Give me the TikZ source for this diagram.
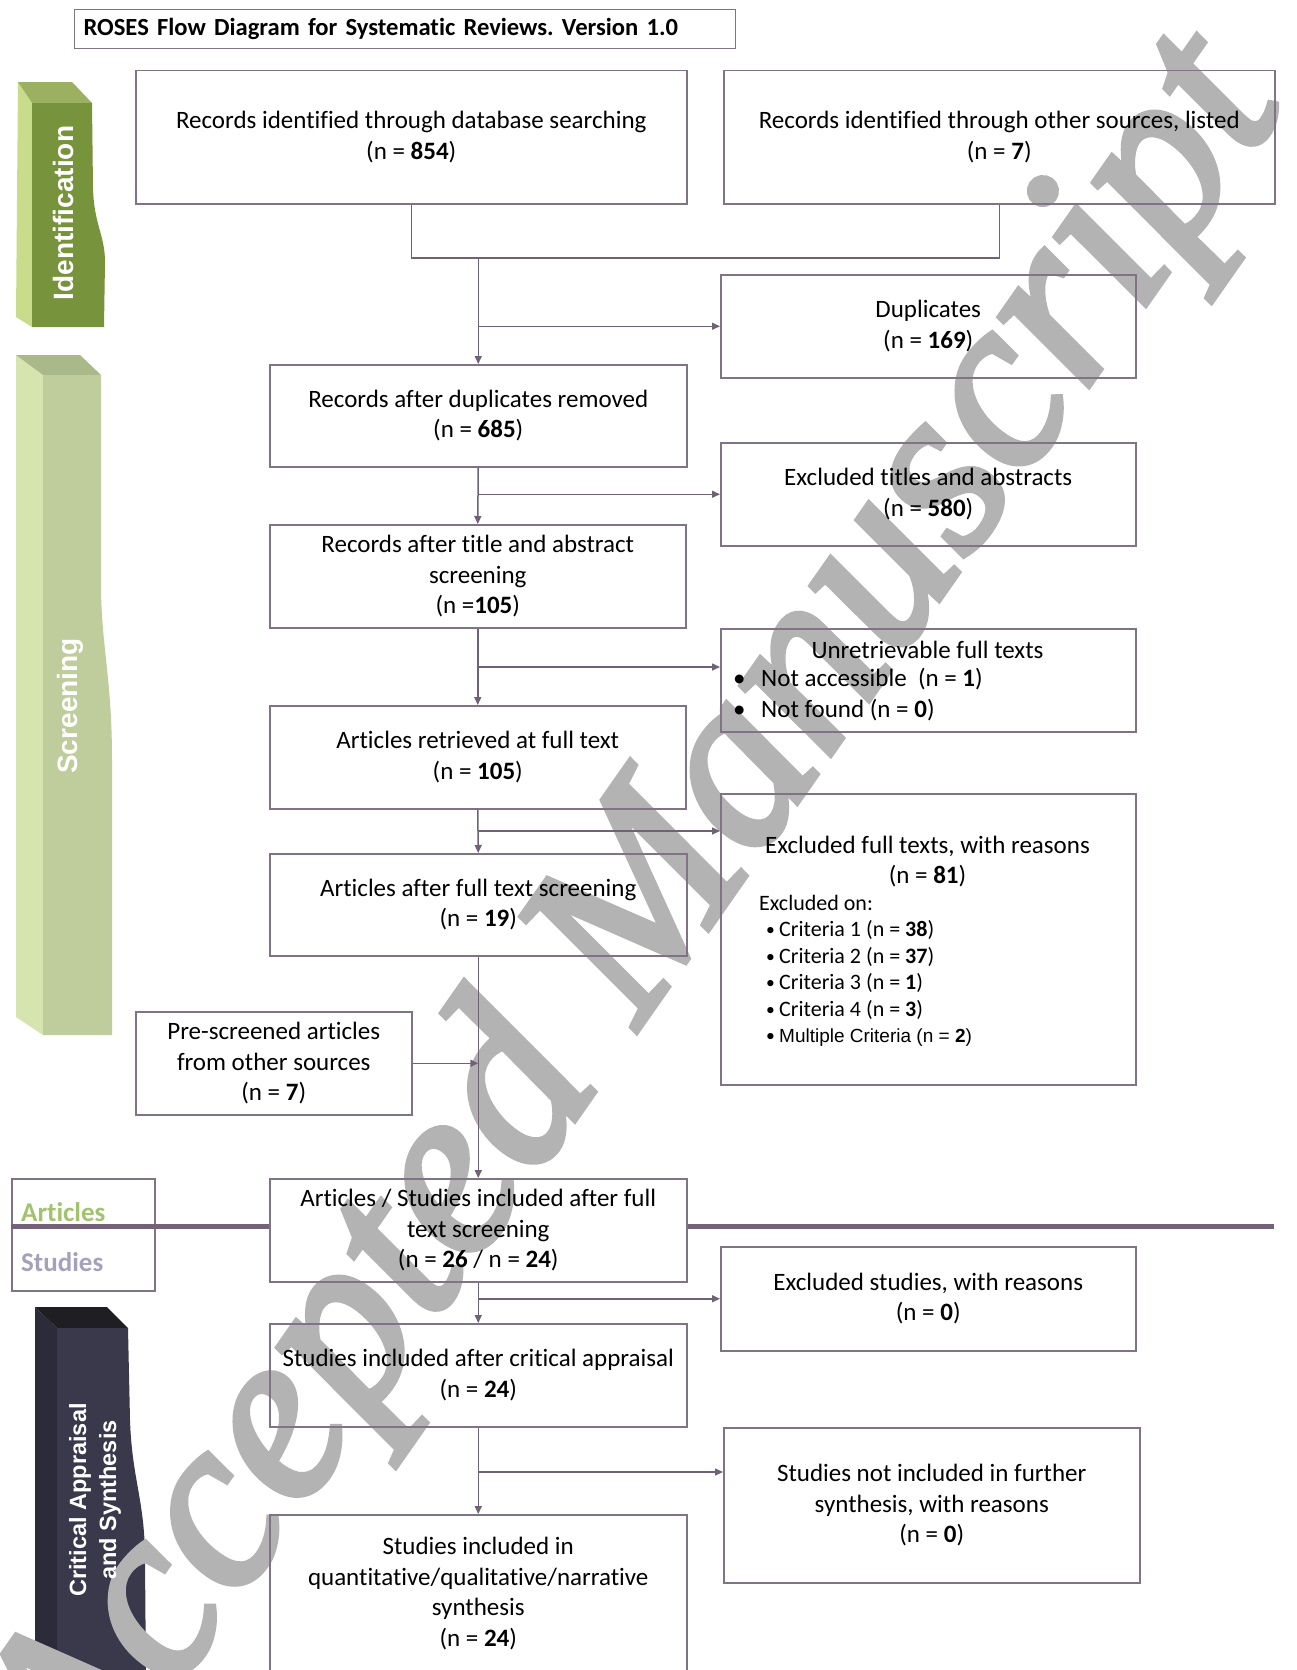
\documentclass[tikz,border=0pt]{standalone}
\usepackage{fontspec}
\setmainfont{Carlito}[Ligatures=NoCommon]
\newfontfamily\arialfont{Liberation Sans}
\newfontfamily\wmfont{Liberation Serif}[FakeBold=2.5]
\usetikzlibrary{arrows.meta}
\definecolor{boxc}{RGB}{128,116,132}
\definecolor{linec}{RGB}{112,98,117}
\definecolor{thickc}{RGB}{115,98,120}
\definecolor{idfront}{RGB}{119,147,60}
\definecolor{idside}{RGB}{200,220,140}
\definecolor{idtop}{RGB}{155,176,97}
\definecolor{scfront}{RGB}{190,205,155}
\definecolor{scside}{RGB}{214,228,176}
\definecolor{sctop}{RGB}{169,185,138}
\definecolor{crfront}{RGB}{58,57,76}
\definecolor{crside}{RGB}{44,43,57}
\definecolor{crtop}{RGB}{30,30,35}
\definecolor{artc}{RGB}{163,194,110}
\definecolor{stuc}{RGB}{166,161,186}
\definecolor{wmc}{RGB}{179,179,179}
\newcommand{\bodyf}{\fontsize{25}{30.5}\selectfont}
\newcommand{\blt}[1]{\makebox[#1][l]{\textbullet}}
\newcommand{\sblt}{\makebox[13pt][l]{\raisebox{1pt}{\scalebox{0.8}{\textbullet}}}}
\frenchspacing
\begin{document}
\begin{tikzpicture}[x=1pt,y=-1pt,
  box/.style={draw=boxc, line width=1.5pt, align=center, font=\bodyf, inner sep=0pt, anchor=north west},
  conn/.style={draw=linec, line width=1.5pt},
  arr/.style={conn, -{Triangle[length=8pt,width=7pt]}},
  txt/.style={font=\bodyf, inner sep=0pt},
  band/.style={text=white, font=\arialfont\bfseries\fontsize{28}{30}\selectfont, rotate=90, align=center, inner sep=0pt}
]
\useasboundingbox (0,0) rectangle (1297,1670);
\clip (0,0) rectangle (1297,1670);
\fill[white] (0,0) rectangle (1297,1670);

% side banners (shapes)
\fill[idside] (18,82) -- (32,103) -- (32,327) -- (16,317) -- cycle;
\fill[idtop] (18,82) -- (72,82) -- (92,103) -- (32,103) -- cycle;
\fill[idfront] (32,103) -- (92,103) -- (93,188) .. controls (94,225) and (105,235) .. (105,262) -- (104,327) -- (32,327) -- cycle;
\fill[scside] (16,355) -- (43,375) -- (43,1035) -- (16,1017) -- cycle;
\fill[sctop] (16,355) -- (80,355) -- (101,375) -- (43,375) -- cycle;
\fill[scfront] (43,375) -- (101,375) -- (101,590) .. controls (102,650) and (112,680) .. (112,760) -- (112,1035) -- (43,1035) -- cycle;
\fill[crside] (35,1307) -- (57,1328) -- (57,1680) -- (35,1660) -- cycle;
\fill[crtop] (35,1307) -- (107,1307) -- (128,1328) -- (57,1328) -- cycle;
\fill[crfront] (57,1328) -- (128,1328) -- (130,1420) .. controls (132,1480) and (145,1500) .. (145,1560) -- (146,1680) -- (57,1680) -- cycle;

% watermark
\node[font=\wmfont\itshape\fontsize{245}{245}\selectfont, text=wmc, rotate=55, anchor=base west, inner sep=0pt] (wm) at (88,1815) {Accepted Manuscript};

% banner texts
\node[band] (idt) at (63,213) {Identification};
\node[band] (sct) at (70,706) {Screening};
\node[band, font=\arialfont\bfseries\fontsize{23.5}{30}\selectfont] (crt) at (95,1500) {Critical Appraisal\\and Synthesis};

% title
\node[draw=boxc, line width=1.2pt, anchor=north west, minimum width=661pt, minimum height=39pt, text width=643pt, inner xsep=9pt, inner ysep=0pt, align=left, font=\bfseries\fontsize{24.6}{30}\selectfont] (title) at (74,9) {ROSES Flow Diagram for Systematic Reviews. Version 1.0};

% boxes
\node[box, minimum width=551pt, minimum height=133pt] (A) at (135,70) {Records identified through database searching\\(n = \textbf{854})};
\node[box, minimum width=551pt, minimum height=133pt] (B) at (723,70) {Records identified through other sources, listed\\(n = \textbf{7})};
\node[box, minimum width=415pt, minimum height=103pt] (D) at (720,274) {Duplicates\\(n = \textbf{169})};
\node[box, minimum width=417pt, minimum height=102pt] (C) at (269,364) {Records after duplicates removed\\(n = \textbf{685})};
\node[box, minimum width=415pt, minimum height=103pt] (F) at (720,442) {Excluded titles and abstracts\\(n = \textbf{580})};
\node[box, minimum width=416pt, minimum height=103pt] (E) at (269,524) {Records after title and abstract\\screening\\(n =\textbf{105})};
\node[box, minimum width=415pt, minimum height=103pt] (G) at (720,628) {};
\node[box, minimum width=416pt, minimum height=103pt] (H) at (269,705) {Articles retrieved at full text\\(n = \textbf{105})};
\node[box, minimum width=415pt, minimum height=291pt] (I) at (720,793) {};
\node[box, minimum width=417pt, minimum height=102pt] (J) at (269,853) {Articles after full text screening\\(n = \textbf{19})};
\node[box, minimum width=276pt, minimum height=103pt] (L) at (135,1011) {Pre-screened articles\\from other sources\\(n = \textbf{7})};
\node[box, minimum width=417pt, minimum height=103pt] (K) at (269,1178) {Articles / Studies included after full\\text screening\\(n = \textbf{26} / n = \textbf{24})};
\node[box, minimum width=415pt, minimum height=104pt] (M) at (720,1246) {Excluded studies, with reasons\\(n = \textbf{0})};
\node[box, minimum width=417pt, minimum height=103pt] (N) at (269,1323) {Studies included after critical appraisal\\(n = \textbf{24})};
\node[box, minimum width=416pt, minimum height=155pt] (O) at (723,1427) {Studies not included in further\\synthesis, with reasons\\(n = \textbf{0})};
\node[box, minimum width=417pt, minimum height=158pt] (P) at (269,1514) {Studies included in\\quantitative/qualitative/narrative\\synthesis\\(n = \textbf{24})};

% contents of G and I
\node[txt] (Ghd) at (927.5,650) {Unretrievable full texts};
\node[txt, align=left, anchor=west] (Glist) at (733,694.5) {\blt{28pt}Not accessible\ \ (n = \textbf{1})\\\blt{28pt}Not found (n = \textbf{0})};
\node[txt, align=center] (Ihd) at (927.5,861.5) {Excluded full texts, with reasons\\(n = \textbf{81})};
\node[inner sep=0pt, align=left, anchor=north west, font=\fontsize{22}{26.4}\selectfont] (Ilist) at (759,895) {Excluded on:\\\hspace*{7pt}\sblt Criteria 1 (n = \textbf{38})\\\hspace*{7pt}\sblt Criteria 2 (n = \textbf{37})\\\hspace*{7pt}\sblt Criteria 3 (n = \textbf{1})\\\hspace*{7pt}\sblt Criteria 4 (n = \textbf{3})\\\hspace*{7pt}\sblt{\arialfont\fontsize{19}{26.4}\selectfont Multiple Criteria (n = \textbf{2})}};

% articles / studies
\node[draw=boxc, line width=1.5pt, anchor=north west, minimum width=143pt, minimum height=112pt, inner sep=0pt] (AS) at (11,1178) {};
\coordinate (thk) at (0,1226);
\coordinate (thkend) at (1274,1226);
\draw[thickc, line width=5pt] (AS.west |- thk) -- (K.west |- thk);
\draw[thickc, line width=5pt] (K.east |- thk) -- (thkend);
\node[anchor=base west, inner sep=0pt, text=artc, font=\bfseries\fontsize{27}{30}\selectfont] (art) at (21,1221) {Articles};
\node[anchor=base west, inner sep=0pt, text=stuc, font=\bfseries\fontsize{27}{30}\selectfont] (stu) at (21,1271) {Studies};

% connectors
\coordinate (t0) at (C.north |- 0,258);
\draw[conn] (A.south) -- (A.south |- t0) -| (B.south);
\draw[arr] (t0) -- (C.north);
\draw[arr] (t0 |- D.west) -- (D.west);
\draw[arr] (C.south) -- (E.north);
\draw[arr] (C.south |- F.west) -- (F.west);
\draw[arr] (E.south) -- (H.north);
\coordinate (gy) at (0,667);
\draw[arr] (E.south |- gy) -- (G.west |- gy);
\draw[arr] (H.south) -- (J.north);
\coordinate (iy) at (0,831);
\draw[arr] (H.south |- iy) -- (I.west |- iy);
\draw[arr] (J.south) -- (K.north);
\draw[arr] (L.east) -- (L.east -| J.south);
\draw[arr] (K.south) -- (N.north);
\draw[arr] (K.south |- M.west) -- (M.west);
\draw[arr] (N.south) -- (P.north);
\coordinate (oy) at (0,1472);
\draw[arr] (N.south |- oy) -- (O.west |- oy);
\end{tikzpicture}
\end{document}
